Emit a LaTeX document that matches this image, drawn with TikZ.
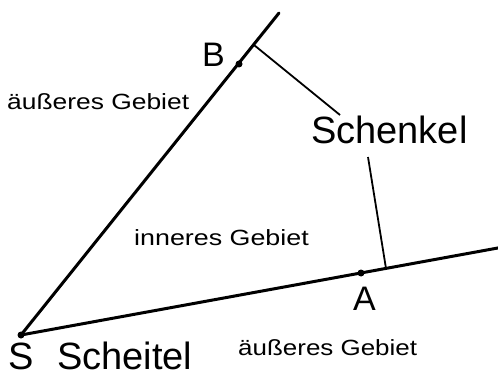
\documentclass[tikz,border=0pt]{standalone}
\usepackage{fontspec}
\setmainfont{Liberation Sans}
\begin{document}
\begin{tikzpicture}[x=1pt,y=-1pt,
  ray/.style={line width=3pt, line cap=round},
  pointer/.style={line width=1.8pt},
  dot/.style={circle, fill, inner sep=0pt, minimum size=7pt},
  big/.style={font=\fontsize{38}{40}\selectfont, inner sep=0pt, anchor=base west},
  ptlabel/.style={font=\fontsize{34}{36}\selectfont, inner sep=0pt, anchor=base west},
  small/.style={font=\fontsize{22}{24}\selectfont, inner sep=0pt, anchor=base west}]
\useasboundingbox (0,0) rectangle (498,377);
\coordinate (S) at (21,335);
\coordinate (B) at (239,64);
\coordinate (A) at (361,273);
\coordinate (E1) at (279,13);
\coordinate (E2) at (500,247.6);
\coordinate (T1) at (254,45);
\coordinate (T2) at (386,268.5);
\coordinate (P1) at (340,115);
\coordinate (P2) at (368,157);
\draw[ray] (S) -- (E1);
\draw[ray] (S) -- (E2);
\node[dot] (dS) at (S) {};
\node[dot] (dB) at (B) {};
\node[dot] (dA) at (A) {};
\draw[pointer] (T1) -- (P1);
\draw[pointer] (P2) -- (T2);
\node[small] (aussen1) at (7,110) {\scalebox{1.2}[1]{äußeres Gebiet}};
\node[small] (innen) at (134,245) {\scalebox{1.22}[1]{inneres Gebiet}};
\node[small] (aussen2) at (238,355) {\scalebox{1.18}[1]{äußeres Gebiet}};
\node[big] (schenkel) at (311,144) {Schenkel};
\node[big] (Slabel) at (8,369) {S};
\node[big] (scheitel) at (57,369) {Scheitel};
\node[ptlabel] (Blabel) at (202,67) {B};
\node[ptlabel] (Alabel) at (353,310) {A};
\end{tikzpicture}
\end{document}
